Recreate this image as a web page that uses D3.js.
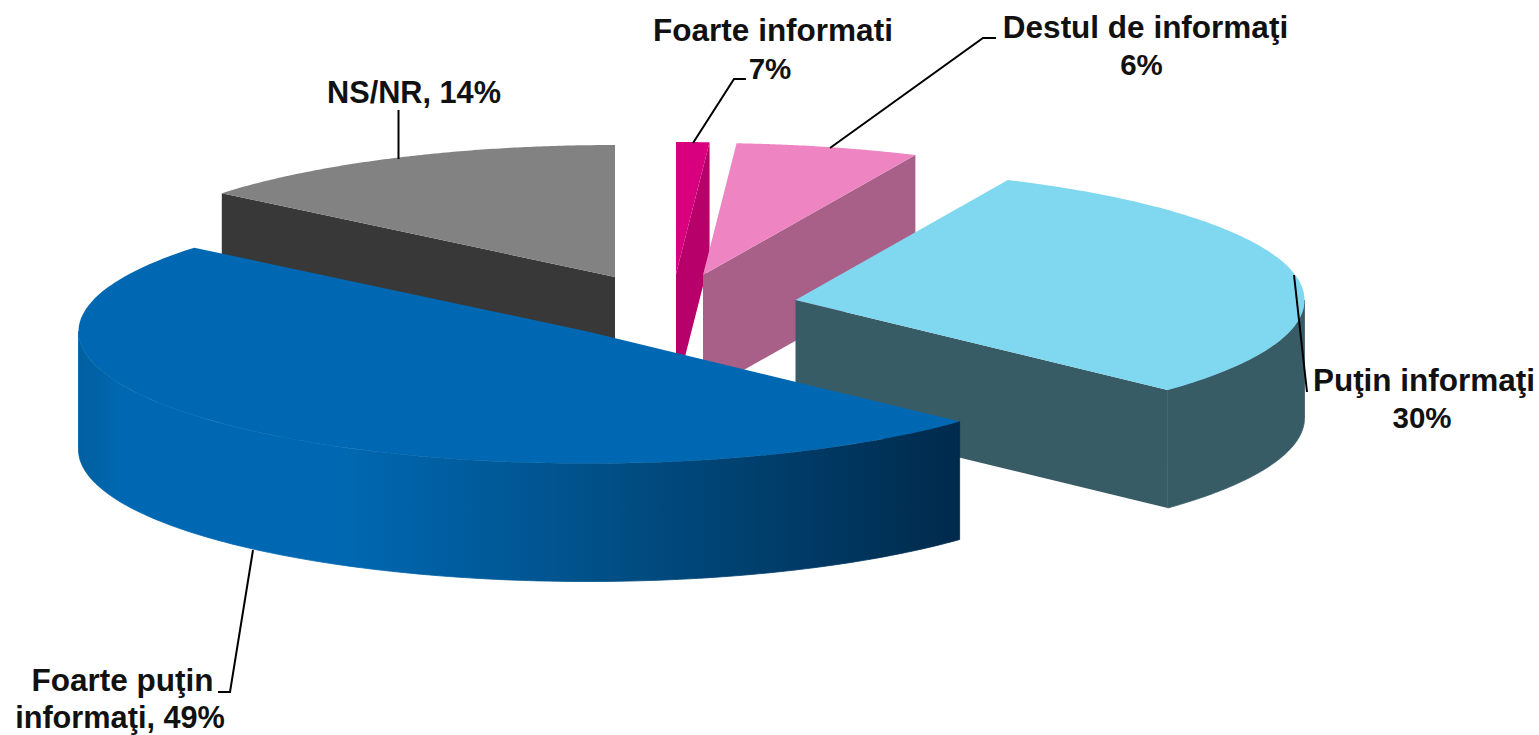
<!DOCTYPE html>
<html>
<head>
  <meta charset="utf-8">
  <style>
    body { margin: 0; background: #fff; }
    svg { display: block; }
    .label { font-family: "Liberation Sans", Arial, sans-serif; font-weight: bold; fill: #111; }
    .leader { fill: none; stroke: #000; stroke-width: 2; }
  </style>
  <script src="https://d3js.org/d3.v7.min.js"></script>
</head>
<body>
  <script>
    // slice sizes as drawn (the thin slice is drawn far smaller than its label says)
    const categories = ["Foarte informati", "Destul de informaţi", "Puţin informaţi", "Foarte puţin informaţi", "NS/NR"];
    const shares = [1.05, 5.8, 30.1, 49, 14.05];
    const labelPercents = [7, 6, 30, 49, 14];
    const topColors = ["#d9007f", "#ee85c2", "#80d8f0", "#0068b2", "#828282"];
    const sideColors = ["#b8006b", "#a86089", "#385c66", "#0068b2", "#383838"];

    const width = 1539, height = 735;
    const rx = 509, ry = 132, depth = 118;
    // every slice was pulled out by hand, so each has its own centre
    const centers = [[676, 274], [703, 275], [795.5, 300], [587.5, 331.5], [615, 277]];

    const svg = d3.select("body").append("svg").attr("width", width).attr("height", height);

    const grad = svg.append("defs").append("linearGradient")
      .attr("id", "blueSide").attr("gradientUnits", "userSpaceOnUse")
      .attr("x1", 78).attr("x2", 960).attr("y1", 0).attr("y2", 0);
    grad.selectAll("stop")
      .data([[0, "#005f9f"], [0.05, "#0068b2"], [0.3, "#0068b2"], [0.6, "#004f86"], [1, "#002a4c"]])
      .join("stop").attr("offset", d => d[0]).attr("stop-color", d => d[1]);

    const arcs = d3.pie().value(d => d).sort(null)(shares);

    function pt(c, a, dy) {
      return [c[0] + rx * Math.sin(a), c[1] - ry * Math.cos(a) + (dy || 0)];
    }
    function arcPoints(c, a0, a1, dy) {
      return d3.range(0, 121).map(i => pt(c, a0 + (a1 - a0) * i / 120, dy));
    }
    const line = d3.line();

    // back to front, the same order the slices overlap in
    [4, 0, 1, 2, 3].forEach(i => {
      const a = arcs[i], c = centers[i];
      const g = svg.append("g");

      [a.startAngle, a.endAngle].forEach((ang, k) => {
        const visible = k === 0 ? Math.sin(ang) < -1e-6 : Math.sin(ang) > 1e-6;
        if (!visible) return;
        const p = pt(c, ang);
        g.append("path").attr("fill", sideColors[i])
          .attr("d", line([c, p, [p[0], p[1] + depth], [c[0], c[1] + depth]]) + "Z");
      });

      // outer wall, only the part that faces the viewer
      const from = Math.max(a.startAngle, Math.PI / 2), to = Math.min(a.endAngle, 3 * Math.PI / 2);
      if (to > from) {
        const top = arcPoints(c, from, to), bottom = arcPoints(c, to, from, depth);
        const fill = i === 3 ? "url(#blueSide)" : sideColors[i];
        // thin stroke hides the seam against the top face and the flat wall
        g.append("path").attr("fill", fill).attr("stroke", fill).attr("stroke-width", 0.8)
          .attr("d", line(top.concat(bottom)) + "Z");
      }

      g.append("path").attr("fill", topColors[i])
        .attr("d", line([c].concat(arcPoints(c, a.startAngle, a.endAngle))) + "Z");
    });

    const leaders = [
      [[693, 143], [734, 79], [746, 79]],
      [[830, 148], [983, 38], [996, 38]],
      [[1294, 275], [1307, 392]],
      [[253, 550], [230, 692], [218, 692]],
      [[398.5, 159], [398.5, 110]]
    ];
    svg.selectAll(".leader").data(leaders).join("path").attr("class", "leader").attr("d", d => line(d));

    const nameSize = 31.5, mixedSize = 30.7, percentSize = 29.5;
    const labels = [
      [773, 41, categories[0], nameSize],
      [770, 79, labelPercents[0] + "%", percentSize],
      [1145.5, 38, categories[1], nameSize],
      [1141.5, 75, labelPercents[1] + "%", percentSize],
      [1424, 391, categories[2], nameSize],
      [1422, 428, labelPercents[2] + "%", percentSize],
      [122.5, 691, "Foarte puţin", nameSize],
      [120, 728, "informaţi, " + labelPercents[3] + "%", mixedSize],
      [414, 103, categories[4] + ", " + labelPercents[4] + "%", mixedSize]
    ];
    svg.selectAll(".label").data(labels).join("text").attr("class", "label")
      .attr("text-anchor", "middle")
      .attr("font-size", d => d[3])
      .attr("x", d => d[0]).attr("y", d => d[1]).text(d => d[2]);
  </script>
</body>
</html>
